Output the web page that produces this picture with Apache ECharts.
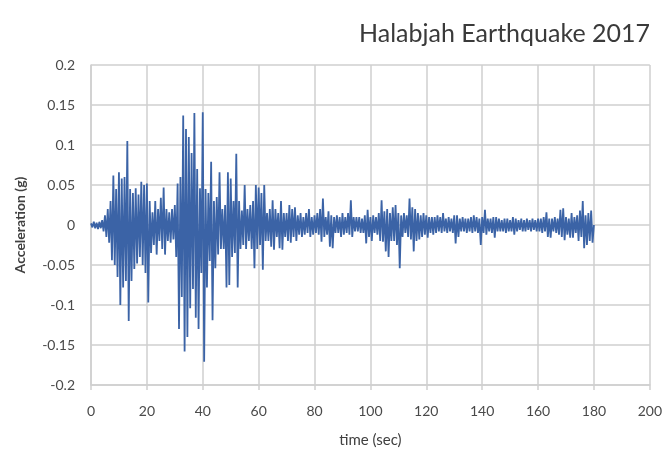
<!DOCTYPE html>
<html>
<head>
<meta charset="utf-8">
<script src="https://cdn.jsdelivr.net/npm/echarts@6/dist/echarts.min.js"></script>
<style>
  html, body { margin: 0; padding: 0; background: #fff; }
  #quake-chart { width: 665px; height: 459px; }
</style>
</head>
<body>
<div id="quake-chart"></div>
<script>
// sample spacing of the record (sec)
var DT = 0.5;

// acceleration (g) in 20 s blocks
var acc0_20 = [0.002, -0.003, 0.004, -0.004, 0.003, -0.005, 0.004, -0.004, 0.006, -0.008,
    0.012, -0.015, 0.02, -0.022, 0.03, -0.044, 0.062, -0.05, 0.045, -0.065,
    0.066, -0.1, 0.058, -0.078, 0.06, -0.07, 0.105, -0.12, 0.045, -0.07,
    0.04, -0.055, 0.046, -0.048, 0.038, -0.04, 0.054, -0.05, 0.05, -0.06];
var acc20_40 = [0.052, -0.097, 0.03, -0.035, 0.016, -0.025, 0.03, -0.037, 0.02, -0.02,
    0.034, -0.03, 0.047, -0.037, 0.02, -0.02, 0.016, -0.022, 0.02, -0.018,
    0.025, -0.04, 0.052, -0.13, 0.06, -0.09, 0.137, -0.158, 0.12, -0.14,
    0.11, -0.104, 0.09, -0.08, 0.14, -0.116, 0.07, -0.13, 0.046, -0.06];
var acc40_60 = [0.141, -0.171, 0.045, -0.078, 0.04, -0.045, 0.079, -0.119, 0.03, -0.054,
    0.035, -0.037, 0.066, -0.03, 0.02, -0.03, 0.025, -0.078, 0.066, -0.075,
    0.058, -0.04, 0.03, -0.035, 0.089, -0.078, 0.03, -0.03, 0.018, -0.025,
    0.05, -0.03, 0.02, -0.02, 0.025, -0.03, 0.03, -0.054, 0.05, -0.03];
var acc60_80 = [0.047, -0.025, 0.04, -0.056, 0.05, -0.02, 0.015, -0.02, 0.02, -0.027,
    0.031, -0.031, 0.02, -0.015, 0.015, -0.029, 0.03, -0.031, 0.015, -0.015,
    0.015, -0.02, 0.025, -0.022, 0.02, -0.015, 0.022, -0.02, 0.012, -0.012,
    0.015, -0.015, 0.01, -0.012, 0.015, -0.01, 0.02, -0.015, 0.01, -0.012];
var acc80_100 = [0.012, -0.01, 0.015, -0.012, 0.02, -0.021, 0.033, -0.015, 0.01, -0.012,
    0.017, -0.027, 0.012, -0.029, 0.01, -0.01, 0.012, -0.01, 0.01, -0.015,
    0.015, -0.012, 0.01, -0.01, 0.015, -0.012, 0.031, -0.015, 0.01, -0.008,
    0.01, -0.008, 0.01, -0.01, 0.008, -0.01, 0.012, -0.023, 0.019, -0.015];
var acc100_120 = [0.01, -0.02, 0.012, -0.01, 0.01, -0.012, 0.015, -0.02, 0.031, -0.021,
    0.017, -0.033, 0.02, -0.04, 0.015, -0.02, 0.022, -0.02, 0.025, -0.025,
    0.015, -0.054, 0.012, -0.015, 0.015, -0.01, 0.012, -0.015, 0.033, -0.018,
    0.022, -0.033, 0.02, -0.02, 0.015, -0.018, 0.012, -0.015, 0.015, -0.012];
var acc120_140 = [0.012, -0.016, 0.01, -0.01, 0.01, -0.012, 0.01, -0.01, 0.012, -0.008,
    0.01, -0.01, 0.015, -0.008, 0.008, -0.01, 0.01, -0.008, 0.008, -0.01,
    0.012, -0.023, 0.012, -0.015, 0.008, -0.008, 0.01, -0.008, 0.008, -0.01,
    0.008, -0.008, 0.01, -0.01, 0.012, -0.008, 0.01, -0.01, 0.008, -0.025];
var acc140_160 = [0.01, -0.01, 0.019, -0.012, 0.008, -0.008, 0.008, -0.01, 0.01, -0.016,
    0.01, -0.008, 0.008, -0.008, 0.006, -0.008, 0.008, -0.01, 0.008, -0.008,
    0.006, -0.008, 0.01, -0.012, 0.008, -0.008, 0.006, -0.006, 0.008, -0.008,
    0.006, -0.008, 0.008, -0.006, 0.006, -0.008, 0.008, -0.006, 0.006, -0.008];
var acc160_180 = [0.008, -0.008, 0.008, -0.01, 0.01, -0.008, 0.016, -0.015, 0.008, -0.016,
    0.008, -0.008, 0.01, -0.01, 0.008, -0.012, 0.019, -0.015, 0.021, -0.019,
    0.01, -0.012, 0.008, -0.016, 0.015, -0.016, 0.01, -0.01, 0.012, -0.02,
    0.018, -0.015, 0.03, -0.029, 0.012, -0.025, 0.015, -0.02, 0.018, -0.022,
    0.0];

var xTicks = [0, 20, 40, 60, 80, 100, 120, 140, 160, 180, 200];
var yTicks = [-0.2, -0.15, -0.1, -0.05, 0, 0.05, 0.1, 0.15, 0.2];

var accel = [].concat(acc0_20, acc20_40, acc40_60, acc60_80, acc80_100,
    acc100_120, acc120_140, acc140_160, acc160_180);
var points = accel.map(function (a, i) { return [i * DT, a]; });

var chart = echarts.init(document.getElementById('quake-chart'));
var labelFont = 'Lato, "Open Sans", sans-serif';
var gridColor = '#cfcfcf';

var option = {
    animation: false,
    title: {
        text: 'Halabjah Earthquake 2017',
        right: 10,
        top: 16,
        textStyle: {
            fontFamily: labelFont,
            fontWeight: 'normal',
            fontSize: 25,
            color: '#3a3a3a'
        }
    },
    grid: {
        left: 91,
        right: 14,
        top: 65,
        bottom: 74
    },
    xAxis: {
        type: 'value',
        min: xTicks[0],
        max: xTicks[xTicks.length - 1],
        interval: 20,
        name: 'time (sec)',
        nameLocation: 'middle',
        nameGap: 48,
        nameTextStyle: { fontFamily: labelFont, fontSize: 15, color: '#404040' },
        axisLine: { show: true, onZero: false, lineStyle: { color: gridColor, width: 1.5 } },
        axisTick: { show: true, length: 5, lineStyle: { color: gridColor, width: 1.5 } },
        axisLabel: { fontFamily: labelFont, fontSize: 14, color: '#4a4a4a', margin: 19 },
        splitLine: { show: true, lineStyle: { color: gridColor, width: 1.5 } }
    },
    yAxis: {
        type: 'value',
        min: yTicks[0],
        max: yTicks[yTicks.length - 1],
        interval: 0.05,
        name: 'Acceleration (g)',
        nameLocation: 'middle',
        nameGap: 64,
        nameTextStyle: { fontFamily: labelFont, fontSize: 14, fontWeight: 'bold', color: '#404040' },
        axisLine: { show: true, lineStyle: { color: gridColor, width: 1.5 } },
        axisTick: { show: false },
        axisLabel: { fontFamily: labelFont, fontSize: 14, color: '#4a4a4a', margin: 16 },
        splitLine: { show: true, lineStyle: { color: gridColor, width: 1.5 } }
    },
    series: [{
        name: 'Acceleration',
        type: 'line',
        data: points,
        showSymbol: false,
        sampling: 'none',
        lineStyle: { color: '#3b63a6', width: 1.8 },
        z: 3
    }]
};

chart.setOption(option);
window.onresize = function () {
    chart.resize();
};
</script>
</body>
</html>
